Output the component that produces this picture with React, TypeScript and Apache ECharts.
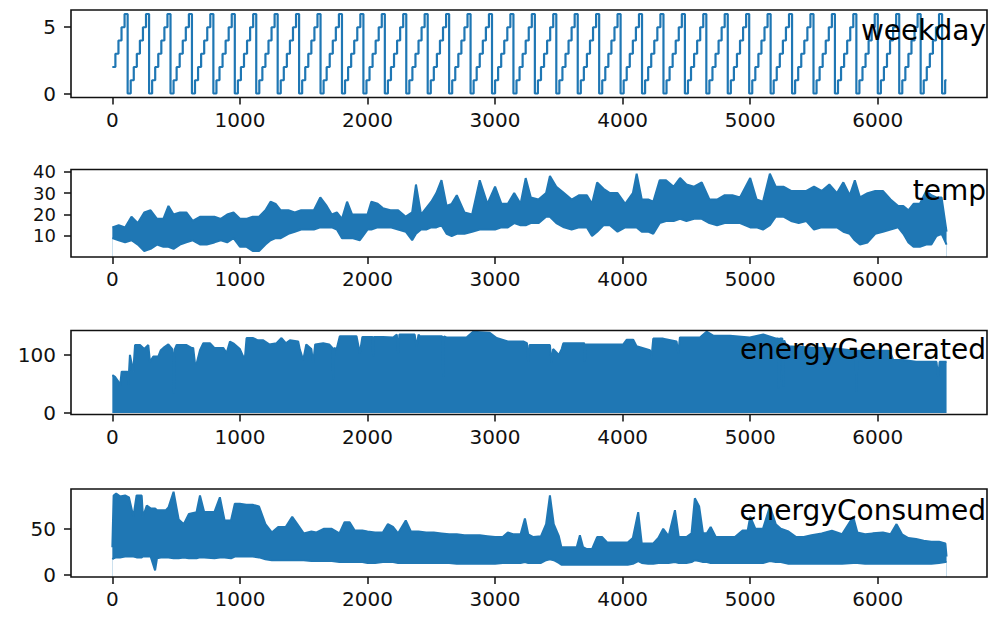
import React, { useEffect, useRef } from 'react';
import * as echarts from 'echarts';

// ---------- data ----------
const X_TICKS = [0, 1000, 2000, 3000, 4000, 5000, 6000];
const HOURS_PER_DAY = 24;
const LAST_INDEX = 6539;

// weekday value of each day (hourly samples, one value per day)
const WEEKDAY_BY_DAY = [
  2,3,4,5,6,0,1, 2,3,4,5,6,0,1, 2,3,4,5,6,0,1, 2,3,4,5,6,0,1, 2,3,4,5,6,0,1,
  2,3,4,5,6,0,1, 2,3,4,5,6,0,1, 2,3,4,5,6,0,1, 2,3,4,5,6,0,1, 2,3,4,5,6,0,1,
  2,3,4,5,6,0,1, 2,3,4,5,6,0,1, 2,3,4,5,6,0,1, 2,3,4,5,6,0,1, 2,3,4,5,6,0,1,
  2,3,4,5,6,0,1, 2,3,4,5,6,0,1, 2,3,4,5,6,0,1, 2,3,4,5,6,0,1, 2,3,4,5,6,0,1,
  2,3,4,5,6,0,1, 2,3,4,5,6,0,1, 2,3,4,5,6,0,1, 2,3,4,5,6,0,1, 2,3,4,5,6,0,1,
  2,3,4,5,6,0,1, 2,3,4,5,6,0,1, 2,3,4,5,6,0,1, 2,3,4,5,6,0,1, 2,3,4,5,6,0,1,
  2,3,4,5,6,0,1, 2,3,4,5,6,0,1, 2,3,4,5,6,0,1, 2,3,4,5,6,0,1, 2,3,4,5,6,0,1,
  2,3,4,5,6,0,1, 2,3,4,5,6,0,1, 2,3,4,5,6,0,1, 2,3,4,5,6,0,1,
];

// temp: envelope of the dense hourly line (x = sample index)
const TEMP_X = [0,50,100,150,200,250,300,350,400,440,480,530,580,630,690,740,800,850,900,950,1000,1050,1100,1150,1200,1240,1280,1320,1380,1430,1480,1530,1580,1630,1680,1720,1760,1800,1840,1880,1940,2000,2030,2080,2120,2180,2240,2300,2350,2380,2420,2460,2500,2540,2580,2620,2660,2700,2760,2820,2880,2940,3000,3050,3100,3150,3200,3240,3280,3340,3400,3430,3480,3540,3600,3660,3720,3760,3800,3850,3900,3960,4020,4080,4110,4150,4200,4240,4290,4340,4400,4450,4500,4560,4620,4680,4740,4800,4860,4920,5000,5050,5100,5154,5200,5260,5320,5380,5440,5500,5560,5620,5680,5730,5780,5820,5860,5920,5980,6040,6100,6160,6200,6240,6280,6330,6380,6420,6460,6500,6539];
const TEMP_LOW = [9,8,7,8,6,3,4,6,5,5,4,6,7,8,6,6,7,8,7,9,5,5,3,3,6,8,9,9,11,12,13,13,13,14,14,14,13,9,9,9,8,13,13,14,14,14,13,12,8,11,13,13,14,14,15,11,10,11,11,12,13,13,13,14,14,16,15,15,16,16,19,19,16,14,13,14,14,10,12,15,15,12,14,14,14,12,12,11,16,17,17,18,17,18,18,16,15,16,16,16,14,14,13,15,19,19,17,16,17,13,14,14,14,12,11,8,6,7,11,12,13,14,11,7,5,5,6,6,10,11,6];
const TEMP_HIGH = [14,15,14,19,16,21,22,18,18,24,20,21,21,17,19,19,19,18,20,21,18,18,19,19,22,26,25,22,22,21,22,22,22,28,24,20,21,18,26,20,20,20,26,25,23,22,22,19,21,34,20,23,26,30,36,24,25,29,21,20,36,25,33,25,25,30,25,37,28,27,30,38,33,30,27,29,29,25,35,32,30,30,25,30,39,27,27,26,36,36,33,37,34,33,35,27,27,29,29,28,37,27,26,39,33,33,31,31,31,33,31,34,30,35,29,36,28,30,31,31,27,24,24,22,25,25,31,29,28,28,12];

// energyGenerated: daily peak envelope (daily minimum is 0)
const GEN_X = [0,21,47,60,73,120,125,138,164,178,217,250,282,295,321,360,380,400,439,470,478,483,490,504,582,620,634,648,661,687,713,765,800,869,896,922,948,1000,1026,1040,1052,1104,1140,1183,1230,1287,1326,1360,1392,1457,1470,1496,1520,1560,1574,1590,1653,1700,1725,1731,1740,1757,1783,1914,1940,1960,2040,2044,2050,2123,2201,2230,2240,2250,2370,2384,2400,2410,2567,2585,2593,2600,2619,2776,2828,2958,3012,3100,3221,3250,3260,3270,3300,3430,3443,3455,3500,3522,3535,3691,3700,3704,3712,4005,4031,4083,4109,4214,4227,4240,4318,4423,4436,4449,4606,4658,4710,4841,4997,5102,5206,5220,5225,5232,5252,5259,5266,5285,5572,5700,5825,5833,5841,6094,6121,6199,6300,6460,6473,6485,6539];
const GEN_HIGH = [65,62,54,45,71,71,48,100,71,117,117,110,117,88,97,97,108,112,118,110,97,33,110,117,117,112,112,85,85,108,120,120,112,112,103,123,120,110,97,97,129,129,125,125,118,120,129,120,125,123,109,91,118,110,86,118,120,118,112,57,112,109,132,132,103,131,131,97,131,131,130,135,103,135,135,114,135,132,132,132,62,132,130,130,140,138,129,123,123,120,86,117,117,117,86,110,100,110,120,120,120,88,118,118,126,126,115,108,97,128,128,123,103,130,130,140,133,133,130,135,128,128,42,128,128,45,125,115,112,110,107,36,107,107,91,91,88,88,62,88,88];

// energyConsumed: envelope of the dense hourly line
const CONS_X = [0,10,30,60,100,130,165,190,230,240,270,300,335,350,380,420,440,480,520,560,600,660,687,720,800,843,880,930,960,1000,1050,1100,1150,1200,1250,1300,1360,1410,1450,1500,1560,1600,1660,1720,1780,1820,1860,1900,1960,2000,2060,2120,2160,2200,2240,2300,2340,2400,2460,2520,2580,2640,2700,2760,2820,2880,2940,3000,3060,3100,3140,3200,3234,3260,3300,3360,3400,3430,3460,3500,3520,3580,3640,3665,3690,3720,3760,3800,3840,3880,3960,4040,4080,4122,4150,4200,4240,4280,4318,4360,4410,4440,4500,4540,4566,4600,4630,4660,4690,4730,4800,4880,4940,4980,5000,5040,5100,5154,5200,5240,5300,5360,5420,5480,5560,5640,5720,5807,5840,5900,5960,6040,6100,6147,6190,6240,6300,6360,6420,6480,6530,6539];
const CONS_LOW = [17,18,19,19,20,20,20,19,19,20,20,20,5,18,19,19,19,18,18,19,18,18,19,19,18,19,19,18,20,20,20,20,19,17,16,16,16,16,16,16,15,15,15,15,14,14,14,14,14,13,13,14,14,14,13,13,13,13,13,13,13,13,12,12,12,12,12,12,13,13,13,13,14,13,13,13,16,17,16,13,11,11,11,11,11,11,11,11,11,11,11,11,12,15,13,12,12,13,13,13,14,13,13,14,16,15,14,14,13,13,13,13,13,13,13,13,13,15,14,14,12,12,12,12,12,12,12,13,13,12,12,12,12,12,12,12,12,12,12,13,14,14];
const CONS_HIGH = [30,86,88,85,86,84,63,86,86,63,75,72,72,70,70,70,73,90,60,55,66,68,86,68,68,84,59,59,77,77,76,76,74,55,46,52,52,63,55,45,47,46,50,50,45,57,57,48,48,47,46,46,55,52,45,59,47,47,46,46,45,44,44,43,43,43,42,41,41,46,44,44,61,44,41,42,55,86,55,42,30,30,30,43,30,28,28,41,41,35,35,35,40,68,34,34,34,40,50,42,70,41,41,45,83,74,45,45,52,41,41,41,48,48,63,50,50,74,55,50,47,41,41,43,45,48,44,63,46,44,45,46,44,55,44,40,39,37,36,36,34,20];

const TITLES = ['weekday', 'temp', 'energyGenerated', 'energyConsumed'];
const Y_TICKS = [[0, 5], [10, 20, 30, 40], [0, 100], [0, 50]];

// ---------- layout ----------
const BLUE = '#1f77b4';
const INK = '#111111';
const FONT = 'DejaVu Sans';
const LEFT = 71;
const WIDTH = 916;
const TOPS = [10, 169.5, 330.5, 489];
const HEIGHTS = [87.5, 87.5, 84, 88];
const Y_RANGES = [[-0.3, 6.3], [0.2, 41], [-2.8, 142], [-2.2, 93]];
const Y_LABEL_SIZE = [20, 18, 20, 20];
const X_RANGE = [-324, 6856];

export default function App() {
  const ref = useRef<HTMLDivElement>(null);
  useEffect(() => {
    if (!ref.current) return;
    const chart = echarts.init(ref.current, undefined, { renderer: 'svg' });

    const weekdayData: number[][] = WEEKDAY_BY_DAY.map((v, d) => [d * HOURS_PER_DAY, v]);
    weekdayData.push([LAST_INDEX, WEEKDAY_BY_DAY[WEEKDAY_BY_DAY.length - 1]]);
    const pair = (xs: number[], ys: number[]) => xs.map((x, i) => [x, ys[i]]);
    const plain = (v: number) => String(v);

    const grids = TOPS.map((t, i) => ({ left: LEFT, top: t, width: WIDTH, height: HEIGHTS[i], show: false }));
    const xAxes = TOPS.map((_, i) => ({
      type: 'value', gridIndex: i, position: 'bottom', min: X_RANGE[0], max: X_RANGE[1],
      axisLine: { show: false, onZero: false }, splitLine: { show: false },
      axisTick: { show: true, length: 7, customValues: X_TICKS, lineStyle: { color: INK, width: 1.5 } },
      axisLabel: { customValues: X_TICKS, formatter: plain, fontSize: 20, color: INK, margin: 12, fontFamily: FONT },
    }));
    const yAxes = TOPS.map((_, i) => ({
      type: 'value', gridIndex: i, position: 'left', min: Y_RANGES[i][0], max: Y_RANGES[i][1],
      axisLine: { show: false, onZero: false }, splitLine: { show: false },
      axisTick: { show: true, length: 7, customValues: Y_TICKS[i], lineStyle: { color: INK, width: 1.5 } },
      axisLabel: {
        customValues: Y_TICKS[i], formatter: plain, fontSize: Y_LABEL_SIZE[i], lineHeight: 17,
        color: INK, margin: 15, fontFamily: FONT,
      },
    }));

    const band = (idx: number, xs: number[], ys: number[], fill: string) => ({
      type: 'line', xAxisIndex: idx, yAxisIndex: idx, symbol: 'none', showSymbol: false,
      lineStyle: { color: BLUE, width: 2 },
      areaStyle: { color: fill, opacity: 1, origin: 'start' },
      data: pair(xs, ys),
    });

    const series: any[] = [
      {
        type: 'line', xAxisIndex: 0, yAxisIndex: 0, step: 'end', symbol: 'none', showSymbol: false,
        lineStyle: { color: BLUE, width: 2.2 }, data: weekdayData,
      },
      band(1, TEMP_X, TEMP_HIGH, BLUE),
      band(1, TEMP_X, TEMP_LOW, '#ffffff'),
      {
        type: 'line', xAxisIndex: 2, yAxisIndex: 2, symbol: 'none', showSymbol: false,
        lineStyle: { color: BLUE, width: 2 },
        areaStyle: { color: BLUE, opacity: 1 },
        data: pair(GEN_X, GEN_HIGH),
      },
      band(3, CONS_X, CONS_HIGH, BLUE),
      band(3, CONS_X, CONS_LOW, '#ffffff'),
    ];

    const graphic: any[] = [];
    TOPS.forEach((t, i) => {
      graphic.push({
        type: 'rect', z: 100, silent: true,
        shape: { x: LEFT, y: t, width: WIDTH, height: HEIGHTS[i] },
        style: { fill: 'none', stroke: INK, lineWidth: 1.6 },
      });
      graphic.push({
        type: 'text', z: 101, silent: true,
        x: LEFT + WIDTH - 1, y: t + HEIGHTS[i] / 2 - 23,
        style: { text: TITLES[i], fill: '#000', font: `28px "${FONT}"`, textAlign: 'right', textVerticalAlign: 'middle' },
      });
    });

    chart.setOption({
      animation: false,
      backgroundColor: '#ffffff',
      grid: grids,
      xAxis: xAxes,
      yAxis: yAxes,
      series,
      graphic,
    });
    return () => chart.dispose();
  }, []);
  return <div ref={ref} style={{ position: 'fixed', left: 0, top: 0, width: 989, height: 619 }} />;
}
